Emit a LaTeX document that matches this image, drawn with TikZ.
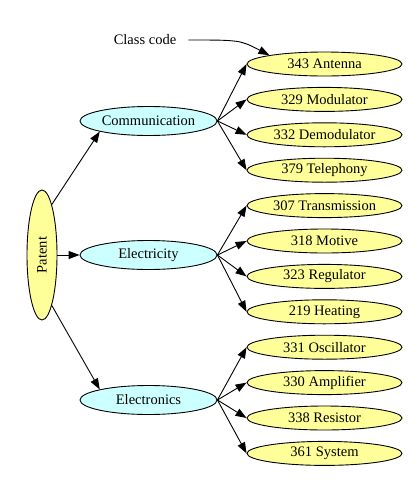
\documentclass[tikz,border=0pt]{standalone}
\usepackage{fontspec}
\setmainfont{Liberation Serif}
\usetikzlibrary{positioning,arrows.meta,shapes.geometric}
\definecolor{LeafYellow}{RGB}{255,255,153}
\definecolor{FieldCyan}{RGB}{204,255,255}
\tikzset{
  edge/.style={-{Triangle[length=11pt,width=8pt]},line width=0.9pt,draw=black},
  leaf/.style={ellipse,draw=black,line width=0.9pt,fill=LeafYellow,inner sep=0pt,
    minimum width=155pt,minimum height=24pt,font=\fontsize{14.5}{16}\selectfont},
  field/.style={ellipse,draw=black,line width=0.9pt,fill=FieldCyan,inner sep=0pt,
    minimum width=137pt,minimum height=29pt,font=\fontsize{14.5}{16}\selectfont},
  root/.style={ellipse,draw=black,line width=0.9pt,fill=LeafYellow,inner sep=0pt,
    minimum width=130pt,minimum height=30pt,rotate=90,font=\fontsize{14.5}{16}\selectfont}
}
\begin{document}
\begin{tikzpicture}[x=1pt,y=1pt,node distance=10.5pt]
  \useasboundingbox (0,0) rectangle (419,-488);
  \node[root] (patent) at (42,-255) {Patent};
  \node[field] (comm) at (148.5,-121) {Communication};
  \node[field] (elec) at (148.5,-255) {Electricity};
  \node[field] (tron) at (148.5,-400) {Electronics};

  \node[leaf] (ant) at (324.5,-64) {343 Antenna};
  \node[leaf,below=of ant] (mod) {329 Modulator};
  \node[leaf,below=of mod] (demod) {332 Demodulator};
  \node[leaf,below=of demod] (tel) {379 Telephony};
  \node[leaf,below=of tel] (trans) {307 Transmission};
  \node[leaf,below=of trans] (mot) {318 Motive};
  \node[leaf,below=of mot] (reg) {323 Regulator};
  \node[leaf,below=of reg] (heat) {219 Heating};
  \node[leaf,below=of heat] (osc) {331 Oscillator};
  \node[leaf,below=of osc] (amp) {330 Amplifier};
  \node[leaf,below=of amp] (res) {338 Resistor};
  \node[leaf,below=of res] (sys) {361 System};

  \node[font=\fontsize{14.5}{16}\selectfont,inner xsep=12pt] (cls) at (145,-40) {Class code};
  \draw[edge] (cls.east) .. controls (240,-40) .. (ant.north west);

  \draw[edge] (patent.-11) -- (comm.south west);
  \draw[edge] (patent) -- (elec);
  \draw[edge] (patent.191) -- (tron.north west);

  \draw[edge] (comm.east) -- (ant.west);
  \draw[edge] (comm.east) -- (mod.west);
  \draw[edge] (comm.east) -- (demod.west);
  \draw[edge] (comm.east) -- (tel.west);
  \draw[edge] (elec.east) -- (trans.west);
  \draw[edge] (elec.east) -- (mot.west);
  \draw[edge] (elec.east) -- (reg.west);
  \draw[edge] (elec.east) -- (heat.west);
  \draw[edge] (tron.east) -- (osc.west);
  \draw[edge] (tron.east) -- (amp.west);
  \draw[edge] (tron.east) -- (res.west);
  \draw[edge] (tron.east) -- (sys.west);
\end{tikzpicture}
\end{document}
